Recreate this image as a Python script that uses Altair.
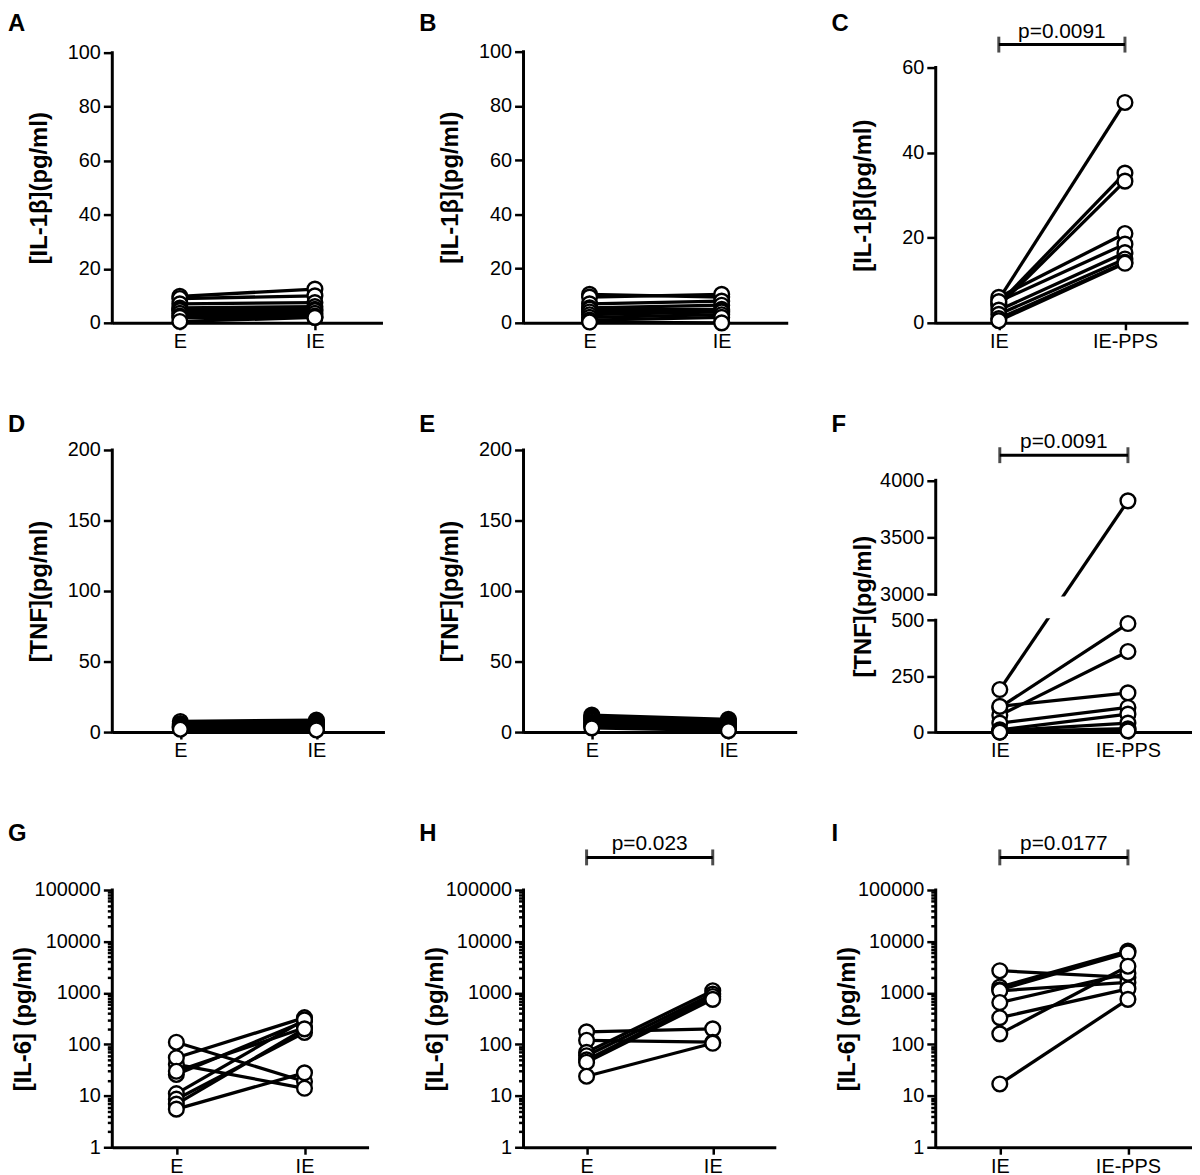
import math
import altair as alt
import pandas as pd

FONT = "Liberation Sans"

# ---------------- data ----------------
# Row 1: IL-1beta (pg/ml)
A_cats = ["E", "IE"]
A_first = [9.8, 9.0, 7.0, 5.5, 5.0, 4.5, 3.5, 2.5, 2.0, 0.5]
A_second = [12.5, 10.0, 7.5, 6.0, 5.0, 4.5, 3.5, 2.5, 2.0, 2.0]

B_cats = ["E", "IE"]
B_first = [10.5, 9.5, 7.0, 5.5, 5.0, 4.0, 3.0, 2.0, 1.0, 0.3]
B_second = [9.5, 10.5, 8.0, 6.5, 5.0, 4.5, 4.0, 3.0, 2.0, 0.0]

C_cats = ["IE", "IE-PPS"]
C_first = [5.5, 4.5, 4.0, 6.0, 5.0, 3.0, 2.0, 1.0, 0.5]
C_second = [51.8, 35.2, 33.3, 21.0, 18.5, 16.5, 15.0, 14.2, 14.0]
C_p = "p=0.0091"
C_bracket = 65.4

# Row 2: TNF (pg/ml)
D_cats = ["E", "IE"]
D_first = [7.5, 6.0, 5.0, 4.5, 4.0, 3.5, 3.0, 3.0, 2.5, 2.0]
D_second = [8.5, 7.5, 6.5, 6.0, 5.0, 4.5, 4.0, 3.0, 2.5, 1.5]

E_cats = ["E", "IE"]
E_first = [12.0, 11.0, 10.0, 9.0, 8.0, 7.0, 6.0, 5.0, 4.0, 3.0]
E_second = [9.0, 8.0, 7.0, 6.0, 5.0, 4.5, 4.0, 3.0, 2.0, 1.0]

F_cats = ["IE", "IE-PPS"]
F_first = [190, 110, 75, 115, 40, 10, 5, 2, 0, 0]
F_second = [3820, 485, 360, 175, 110, 80, 40, 15, 10, 5]
F_p = "p=0.0091"
F_bracket = 4220

# Row 3: IL-6 (pg/ml), log axis
G_cats = ["E", "IE"]
G_first = [110, 41, 55, 26, 30, 11, 8.6, 6.9, 5.5]
G_second = [19, 14, 330, 280, 210, 300, 170, 200, 28]

H_cats = ["E", "IE"]
H_first = [175, 120, 70, 60, 50, 45, 24]
H_second = [200, 110, 1100, 950, 850, 750, 105]
H_p = "p=0.023"
H_bracket = 430000

I_cats = ["IE", "IE-PPS"]
I_first = [2700, 1300, 1150, 1100, 650, 330, 160, 17]
I_second = [2000, 6500, 6000, 1600, 2400, 1200, 3300, 750]
I_p = "p=0.0177"
I_bracket = 430000

# axis ticks
IL1_TICKS = [0, 20, 40, 60, 80, 100]
C_TICKS = [0, 20, 40, 60]
TNF_TICKS = [0, 50, 100, 150, 200]
F_TICKS = [0, 250, 500, 3000, 3500, 4000]
LOG_MAJOR = [1, 10, 100, 1000, 10000, 100000]

IL1_TITLE = "[IL-1β](pg/ml)"
TNF_TITLE = "[TNF](pg/ml)"
IL6_TITLE = "[IL-6] (pg/ml)"

# broken-axis mapping for panel F
BRK_LO, BRK_HI, BRK_GAP, BRK_RATIO = 500, 3000, 115, 0.51


def brk_map(v):
    return v if v <= BRK_LO else BRK_LO + BRK_GAP + (v - BRK_HI) * BRK_RATIO


BRK_EXPR = (f"datum.v <= {BRK_LO} ? datum.v : "
            f"{BRK_LO + BRK_GAP} + (datum.v - {BRK_HI}) * {BRK_RATIO}")

ROW_H = [306, 314, 320]
ROW_TITLE_X = [-73, -73, -89]
TITLE_DY = 17


def panel(letter, cats, first, second, ytitle, row, width, kind, ticks,
          ppu, bracket=None, ptext=None):
    height = ROW_H[row]
    n = len(first)
    pts = pd.DataFrame({"x": [0] * n + [1] * n, "v": list(first) + list(second),
                        "subj": list(range(n)) * 2})
    yexpr = BRK_EXPR if kind == "break" else "datum.v"

    common_y = dict(labelFontSize=20, labelFont=FONT, tickSize=9, tickWidth=2.5,
                    tickColor="black", labelColor="black", labelPadding=3,
                    domain=False, grid=False,
                    labelOverlap=False, labelFlush=False,
                    title=ytitle, titleFont=FONT, titleFontSize=24, titleColor="black",
                    titleFontWeight="bold", titleAngle=270, titleAlign="center",
                    titleBaseline="middle", titleX=ROW_TITLE_X[row])
    if kind == "log":
        top = 10 ** (height / ppu)
        yscale = alt.Scale(type="log", domain=[1, top], nice=False)
        minor = [m * 10 ** d for d in range(5) for m in range(2, 10)]
        values = sorted(set(ticks + minor))
        axis_len = math.log10(max(ticks)) * ppu
        maj = "[" + ",".join(str(t) for t in ticks) + "]"
        common_y.update(
            values=values,
            labelExpr=f"indexof({maj}, datum.value) >= 0 ? format(datum.value, 'd') : ''",
            tickSize={"condition": {"test": f"indexof({maj}, datum.value) >= 0", "value": 9},
                      "value": 5},
        )
        seg = pd.DataFrame({"x": [-0.5, -0.5], "v": [1, max(ticks)], "seg": [0, 0]})
    else:
        top = height / ppu
        yscale = alt.Scale(domain=[0, top], nice=False, zero=True)
        if kind == "break":
            values = [brk_map(t) for t in ticks]
            common_y.update(
                values=values,
                labelExpr=(f"datum.value <= {BRK_LO} ? format(datum.value, 'd') : "
                           f"format(round({BRK_HI} + (datum.value - {BRK_LO + BRK_GAP}) / {BRK_RATIO}), 'd')"),
            )
            seg = pd.DataFrame({"x": [-0.5] * 4, "v": [0, BRK_LO, BRK_HI, max(ticks)],
                                "seg": [0, 0, 1, 1]})
        else:
            values = ticks
            common_y.update(values=values)
            seg = pd.DataFrame({"x": [-0.5, -0.5], "v": [0, max(ticks)], "seg": [0, 0]})
        axis_len = max(values) * ppu
    common_y["titleY"] = height - axis_len / 2

    xscale = alt.Scale(domain=[-0.5, 1.5], nice=False, zero=False)
    xaxis = alt.Axis(values=[0, 1], labelExpr=f"datum.value == 0 ? '{cats[0]}' : '{cats[1]}'",
                     title=None, grid=False, domainWidth=3, domainColor="black",
                     tickSize=7, tickWidth=2.5, tickColor="black", labelFontSize=20,
                     labelColor="black", labelFont=FONT, labelPadding=2, labelFlush=False)
    yaxis = alt.Axis(**common_y)

    def X():
        return alt.X("x:Q", scale=xscale, axis=xaxis)

    def Y():
        return alt.Y("y:Q", scale=yscale, axis=yaxis)

    layers = []
    layers.append(alt.Chart(seg).transform_calculate(y=yexpr)
                  .mark_line(color="black", strokeWidth=3, strokeCap="square")
                  .encode(x=X(), y=Y(), detail="seg:N"))
    layers.append(alt.Chart(pts).transform_calculate(y=yexpr)
                  .mark_line(color="black", strokeWidth=3.3)
                  .encode(x=X(), y=Y(), detail="subj:N"))
    if kind == "break":
        band = pd.DataFrame({"x": [-0.5], "x2": [1.5],
                             "y": [brk_map(BRK_LO) + 9], "y2": [brk_map(BRK_HI) - 9]})
        layers.append(alt.Chart(band).mark_rect(color="white")
                      .encode(x=X(), x2="x2:Q", y=Y(), y2="y2:Q"))
    layers.append(alt.Chart(pts).transform_calculate(y=yexpr)
                  .mark_circle(size=220, color="white", stroke="black", strokeWidth=2.4,
                               opacity=1)
                  .encode(x=X(), y=Y()))
    if bracket is not None:
        bdf = pd.DataFrame({"x": [0], "x2": [1], "v": [bracket]})
        tdf = pd.DataFrame({"x": [0, 1], "v": [bracket, bracket]})
        txt = pd.DataFrame({"x": [0.5], "v": [bracket], "t": [ptext]})
        layers.append(alt.Chart(bdf).transform_calculate(y=yexpr)
                      .mark_rule(color="black", strokeWidth=3)
                      .encode(x=X(), x2="x2:Q", y=Y()))
        layers.append(alt.Chart(tdf).transform_calculate(y=yexpr)
                      .mark_tick(orient="vertical", size=16, thickness=3, color="black")
                      .encode(x=X(), y=Y()))
        layers.append(alt.Chart(txt).transform_calculate(y=yexpr)
                      .mark_text(font=FONT, fontSize=21, dy=-7, baseline="alphabetic",
                                 color="black")
                      .encode(x=X(), y=Y(), text="t:N"))
    return alt.layer(*layers).properties(
        width=width, height=height,
        title=alt.TitleParams(text=letter, anchor="start", frame="group", orient="top",
                              offset=0, dx=-105, dy=TITLE_DY, fontSize=24,
                              fontWeight="bold", font=FONT, color="black"))


panels = [
    panel("A", A_cats, A_first, A_second, IL1_TITLE, 0, 272, "lin", IL1_TICKS, 2.72),
    panel("B", B_cats, B_first, B_second, IL1_TITLE, 0, 266, "lin", IL1_TICKS, 2.73),
    panel("C", C_cats, C_first, C_second, IL1_TITLE, 0, 254, "lin", C_TICKS, 4.283,
          C_bracket, C_p),
    panel("D", D_cats, D_first, D_second, TNF_TITLE, 1, 274, "lin", TNF_TICKS, 1.42),
    panel("E", E_cats, E_first, E_second, TNF_TITLE, 1, 275, "lin", TNF_TICKS, 1.42),
    panel("F", F_cats, F_first, F_second, TNF_TITLE, 1, 258, "break", F_TICKS, 0.2253,
          F_bracket, F_p),
    panel("G", G_cats, G_first, G_second, IL6_TITLE, 2, 258, "log", LOG_MAJOR, 51.8),
    panel("H", H_cats, H_first, H_second, IL6_TITLE, 2, 254, "log", LOG_MAJOR, 51.8,
          H_bracket, H_p),
    panel("I", I_cats, I_first, I_second, IL6_TITLE, 2, 258, "log", LOG_MAJOR, 51.8,
          I_bracket, I_p),
]

chart = (alt.concat(*panels, columns=3, spacing={"row": 98, "column": 140}, bounds="flush")
         .properties(padding={"left": 0, "top": 0, "right": 0, "bottom": 0})
         .configure_view(stroke=None)
         .configure_axis(labelColor="black", titleColor="black")
         .configure_title(font=FONT, color="black"))

chart.save("out.html", embed_options={"renderer": "svg", "actions": False})
